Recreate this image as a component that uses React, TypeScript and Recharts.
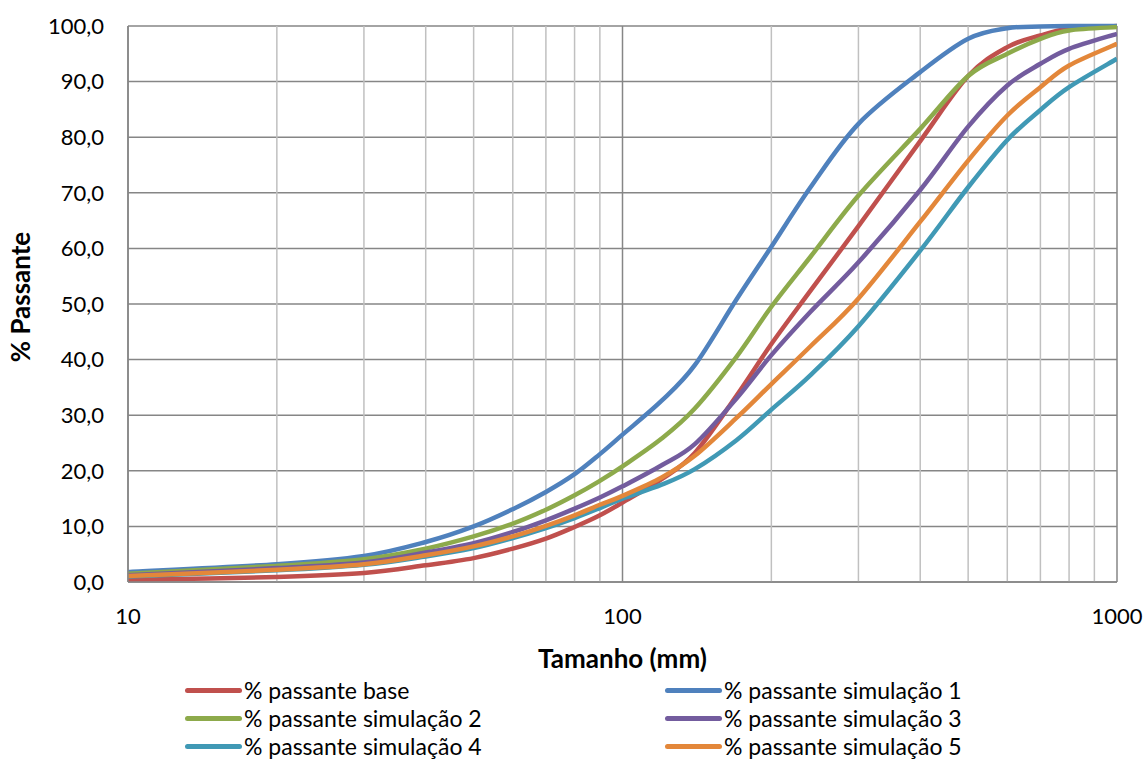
import { LineChart, Line, XAxis, YAxis, CartesianGrid, ReferenceLine } from "recharts";

// sieve sizes (mm) and % passing for each curve
const sizes = [10, 20, 30, 40, 50, 60, 70, 80, 90, 100, 120, 140, 170, 200, 240, 300, 400, 500, 600, 700, 800, 1000];
const base = [0.4, 0.9, 1.6, 3.0, 4.3, 6.0, 7.8, 9.9, 12.0, 14.3, 18.5, 23.2, 33.5, 42.8, 52.4, 64.0, 79.3, 91.0, 96.2, 98.3, 99.5, 100];
const sim1 = [1.8, 3.2, 4.7, 7.2, 10.0, 13.1, 16.2, 19.4, 23.0, 26.5, 32.6, 39.0, 50.8, 60.3, 71.0, 82.4, 91.7, 97.7, 99.6, 99.9, 100, 100];
const sim2 = [1.5, 2.9, 4.1, 6.0, 8.2, 10.5, 13.0, 15.6, 18.2, 20.8, 25.8, 31.2, 40.5, 49.5, 58.5, 69.5, 81.5, 91.0, 95.0, 97.7, 99.2, 99.8];
const sim3 = [1.2, 2.5, 3.5, 5.3, 7.0, 9.0, 11.1, 13.2, 15.2, 17.2, 21.0, 24.8, 33.0, 40.8, 48.6, 57.5, 70.5, 81.9, 89.3, 93.2, 95.9, 98.6];
const sim4 = [1.0, 2.1, 3.1, 4.6, 6.1, 7.9, 9.7, 11.5, 13.3, 15.0, 17.5, 20.3, 25.5, 31.0, 37.2, 46.0, 59.6, 71.0, 79.5, 84.9, 89.0, 94.1];
const sim5 = [1.1, 2.2, 3.2, 4.8, 6.4, 8.2, 10.1, 12.0, 13.9, 15.5, 18.8, 22.7, 29.5, 35.6, 42.4, 51.0, 64.8, 75.8, 83.9, 89.0, 92.9, 96.8];

const seriesKeys = ["base", "sim1", "sim2", "sim3", "sim4", "sim5"];
const seriesNames = [
  "% passante base",
  "% passante simulação 1",
  "% passante simulação 2",
  "% passante simulação 3",
  "% passante simulação 4",
  "% passante simulação 5",
];
const seriesColors = ["#C0504D", "#4F81BD", "#8DAA4B", "#735C9E", "#4099B5", "#E3873A"];

const xTicks = [10, 100, 1000];
const xMinor = [20, 30, 40, 50, 60, 70, 80, 90, 200, 300, 400, 500, 600, 700, 800, 900];
const yTicks = [0, 10, 20, 30, 40, 50, 60, 70, 80, 90, 100];

const data = sizes.map((size, i) => ({
  size,
  base: base[i],
  sim1: sim1[i],
  sim2: sim2[i],
  sim3: sim3[i],
  sim4: sim4[i],
  sim5: sim5[i],
}));

// Excel-style smoothed line (Catmull-Rom through the points)
const smoothCurve = (context: any) => {
  let pts: number[][] = [];
  return {
    areaStart() {},
    areaEnd() {},
    lineStart() {
      pts = [];
    },
    point(x: number, y: number) {
      pts.push([+x, +y]);
    },
    lineEnd() {
      if (!pts.length) return;
      context.moveTo(pts[0][0], pts[0][1]);
      for (let i = 0; i < pts.length - 1; i++) {
        const p0 = pts[Math.max(i - 1, 0)];
        const p1 = pts[i];
        const p2 = pts[i + 1];
        const p3 = pts[Math.min(i + 2, pts.length - 1)];
        context.bezierCurveTo(
          p1[0] + (p2[0] - p0[0]) / 6,
          p1[1] + (p2[1] - p0[1]) / 6,
          p2[0] - (p3[0] - p1[0]) / 6,
          p2[1] - (p3[1] - p1[1]) / 6,
          p2[0],
          p2[1]
        );
      }
    },
  };
};

const font = "Lato, 'Open Sans', sans-serif";
const major = "#868686";
const minor = "#C0C0C0";

const App = () => {
  return (
    <div style={{ position: "absolute", left: 0, top: 0, width: 1146, height: 765, background: "#fff", fontFamily: font }}>
      <LineChart width={1146} height={765} data={data} margin={{ top: 26, right: 29, left: 0, bottom: 93 }}>
        <CartesianGrid vertical={false} stroke={major} strokeWidth={1.5} />
        {xMinor.map((v) => (
          <ReferenceLine key={v} x={v} stroke={minor} strokeWidth={1.5} />
        ))}
        {xTicks.map((v) => (
          <ReferenceLine key={"M" + v} x={v} stroke={major} strokeWidth={1.5} />
        ))}
        <XAxis
          dataKey="size"
          type="number"
          scale="log"
          domain={[10, 1000]}
          ticks={xTicks}
          allowDataOverflow
          height={90}
          tickSize={0}
          tickMargin={26}
          tick={{ fill: "#000", fontSize: 22, fontFamily: font }}
          axisLine={{ stroke: major, strokeWidth: 1.5 }}
          label={{
            content: ({ viewBox }: any) => (
              <text
                x={viewBox.x + viewBox.width / 2}
                y={viewBox.y + 86}
                textAnchor="middle"
                fontSize={26}
                fontWeight="bold"
                fontFamily={font}
                fill="#000"
              >
                Tamanho (mm)
              </text>
            ),
          }}
        />
        <YAxis
          type="number"
          domain={[0, 100]}
          ticks={yTicks}
          width={128}
          tickSize={0}
          tickMargin={24}
          tickFormatter={(v: number) => v.toFixed(1).replace(".", ",")}
          tick={{ fill: "#000", fontSize: 22, fontFamily: font }}
          axisLine={{ stroke: major, strokeWidth: 1.5 }}
          label={{
            content: ({ viewBox }: any) => {
              const cx = 20;
              const cy = viewBox.y + viewBox.height / 2 - 7;
              return (
                <text
                  x={cx}
                  y={cy}
                  transform={`rotate(-90 ${cx} ${cy})`}
                  textAnchor="middle"
                  dominantBaseline="central"
                  fontSize={26}
                  fontWeight="bold"
                  fontFamily={font}
                  fill="#000"
                >
                  % Passante
                </text>
              );
            },
          }}
        />
        {seriesKeys.map((k, i) => (
          <Line
            key={k}
            type={smoothCurve as any}
            dataKey={k}
            name={seriesNames[i]}
            stroke={seriesColors[i]}
            strokeWidth={4.5}
            dot={false}
            isAnimationActive={false}
          />
        ))}
      </LineChart>
      <div style={{ position: "absolute", left: 0, top: 676, width: 1146 }}>
        {seriesKeys.map((k, i) => (
          <div
            key={k}
            style={{
              position: "absolute",
              left: i % 2 === 0 ? 185 : 665,
              top: Math.floor(i / 2) * 28,
              height: 28,
              display: "flex",
              alignItems: "center",
              fontSize: 23,
              color: "#000",
              whiteSpace: "nowrap",
            }}
          >
            <span
              style={{
                display: "inline-block",
                width: 57,
                height: 5,
                borderRadius: 3,
                background: seriesColors[i],
                marginRight: 2,
              }}
            />
            {seriesNames[i]}
          </div>
        ))}
      </div>
    </div>
  );
};

export default App;
